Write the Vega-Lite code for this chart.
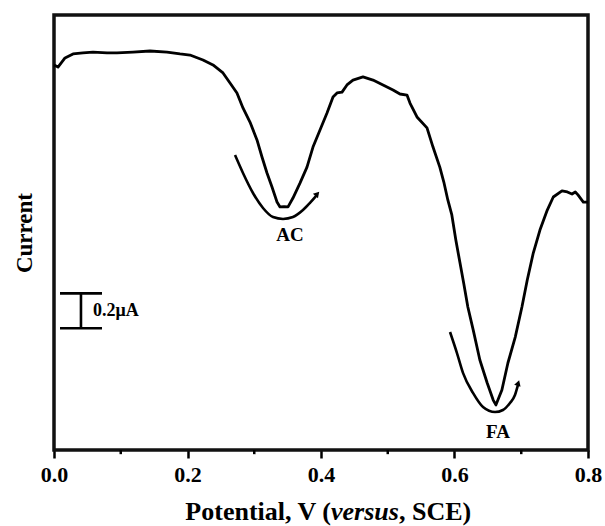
{
  "$schema": "https://vega.github.io/schema/vega-lite/v6.json",
  "width": 534,
  "height": 435,
  "autosize": "none",
  "padding": {"left": 54, "top": 15, "right": 17, "bottom": 76},
  "background": "white",
  "config": {
    "view": {"stroke": null},
    "font": "Liberation Serif",
    "axis": {"domain": false, "offset": 0, "grid": false, "labelColor": "black", "titleColor": "black", "tickColor": "black"},
    "axisX": {
      "domain": false,
      "offset": 0,
      "title": null,
      "labelFont": "Liberation Serif",
      "labelFontWeight": "bold",
      "labelFontSize": 22,
      "labelPadding": 6,
      "labelOverlap": false,
      "labelFlush": false,
      "tickSize": 8,
      "tickWidth": 2.5
    },
    "axisY": {
      "domain": false,
      "offset": 0,
      "labels": false,
      "ticks": false,
      "titleFont": "Liberation Serif",
      "titleFontWeight": "bold",
      "titleFontSize": 23,
      "titlePadding": 18
    }
  },
  "datasets": {
    "curve": [
      {"potential": 0.0, "current": 2.213},
      {"potential": 0.006, "current": 2.201},
      {"potential": 0.0165, "current": 2.253},
      {"potential": 0.0285, "current": 2.276},
      {"potential": 0.0434, "current": 2.282},
      {"potential": 0.0584, "current": 2.287},
      {"potential": 0.0794, "current": 2.282},
      {"potential": 0.0944, "current": 2.282},
      {"potential": 0.1183, "current": 2.287},
      {"potential": 0.1438, "current": 2.293},
      {"potential": 0.1693, "current": 2.287},
      {"potential": 0.1888, "current": 2.276},
      {"potential": 0.2037, "current": 2.27},
      {"potential": 0.2232, "current": 2.241},
      {"potential": 0.2382, "current": 2.213},
      {"potential": 0.2532, "current": 2.167},
      {"potential": 0.2637, "current": 2.109},
      {"potential": 0.2741, "current": 2.052},
      {"potential": 0.2831, "current": 1.966},
      {"potential": 0.2936, "current": 1.885},
      {"potential": 0.3041, "current": 1.782},
      {"potential": 0.3116, "current": 1.684},
      {"potential": 0.3191, "current": 1.592},
      {"potential": 0.3266, "current": 1.511},
      {"potential": 0.3341, "current": 1.425},
      {"potential": 0.3386, "current": 1.397},
      {"potential": 0.3446, "current": 1.399},
      {"potential": 0.3506, "current": 1.397},
      {"potential": 0.358, "current": 1.448},
      {"potential": 0.3685, "current": 1.534},
      {"potential": 0.379, "current": 1.626},
      {"potential": 0.388, "current": 1.741},
      {"potential": 0.3985, "current": 1.839},
      {"potential": 0.409, "current": 1.937},
      {"potential": 0.418, "current": 2.029},
      {"potential": 0.424, "current": 2.052},
      {"potential": 0.4315, "current": 2.057},
      {"potential": 0.4389, "current": 2.098},
      {"potential": 0.4479, "current": 2.126},
      {"potential": 0.4629, "current": 2.144},
      {"potential": 0.4779, "current": 2.126},
      {"potential": 0.4929, "current": 2.098},
      {"potential": 0.5079, "current": 2.069},
      {"potential": 0.5183, "current": 2.046},
      {"potential": 0.5288, "current": 2.04},
      {"potential": 0.5333, "current": 1.994},
      {"potential": 0.5438, "current": 1.914},
      {"potential": 0.5588, "current": 1.851},
      {"potential": 0.5678, "current": 1.741},
      {"potential": 0.578, "current": 1.626},
      {"potential": 0.584, "current": 1.54},
      {"potential": 0.59, "current": 1.437},
      {"potential": 0.596, "current": 1.351},
      {"potential": 0.602, "current": 1.207},
      {"potential": 0.608, "current": 1.08},
      {"potential": 0.614, "current": 0.954},
      {"potential": 0.62, "current": 0.822},
      {"potential": 0.628, "current": 0.69},
      {"potential": 0.638, "current": 0.517},
      {"potential": 0.649, "current": 0.385},
      {"potential": 0.658, "current": 0.287},
      {"potential": 0.662, "current": 0.259},
      {"potential": 0.671, "current": 0.345},
      {"potential": 0.68, "current": 0.5},
      {"potential": 0.691, "current": 0.649},
      {"potential": 0.701, "current": 0.822},
      {"potential": 0.709, "current": 0.977},
      {"potential": 0.718, "current": 1.132},
      {"potential": 0.728, "current": 1.264},
      {"potential": 0.739, "current": 1.379},
      {"potential": 0.748, "current": 1.454},
      {"potential": 0.761, "current": 1.489},
      {"potential": 0.769, "current": 1.483},
      {"potential": 0.776, "current": 1.471},
      {"potential": 0.781, "current": 1.483},
      {"potential": 0.785, "current": 1.466},
      {"potential": 0.793, "current": 1.425},
      {"potential": 0.8, "current": 1.425}
    ],
    "frame": [
      {"potential": 0, "potential2": 0.8, "current": 0, "current2": 2.5}
    ],
    "minorTicks": [
      {"potential": 0.1, "current": 0, "current2": -0.024},
      {"potential": 0.3, "current": 0, "current2": -0.024},
      {"potential": 0.5, "current": 0, "current2": -0.024},
      {"potential": 0.7, "current": 0, "current2": -0.024}
    ],
    "arcs": [
      {"peak": "AC", "potential": 0.2712, "current": 1.695},
      {"peak": "AC", "potential": 0.2831, "current": 1.592},
      {"peak": "AC", "potential": 0.2981, "current": 1.477},
      {"peak": "AC", "potential": 0.3131, "current": 1.391},
      {"peak": "AC", "potential": 0.3281, "current": 1.339},
      {"peak": "AC", "potential": 0.3431, "current": 1.328},
      {"peak": "AC", "potential": 0.358, "current": 1.339},
      {"peak": "AC", "potential": 0.373, "current": 1.379},
      {"peak": "AC", "potential": 0.3835, "current": 1.42},
      {"peak": "AC", "potential": 0.394, "current": 1.466},
      {"peak": "FA", "potential": 0.5933, "current": 0.678},
      {"peak": "FA", "potential": 0.6037, "current": 0.557},
      {"peak": "FA", "potential": 0.6127, "current": 0.443},
      {"peak": "FA", "potential": 0.6277, "current": 0.328},
      {"peak": "FA", "potential": 0.6427, "current": 0.247},
      {"peak": "FA", "potential": 0.6607, "current": 0.218},
      {"peak": "FA", "potential": 0.6726, "current": 0.23},
      {"peak": "FA", "potential": 0.6831, "current": 0.27},
      {"peak": "FA", "potential": 0.6906, "current": 0.316},
      {"peak": "FA", "potential": 0.6951, "current": 0.374}
    ],
    "arrowTips": [
      {"peak": "AC", "potential": 0.3945, "current": 1.472},
      {"peak": "FA", "potential": 0.6955, "current": 0.385}
    ],
    "peakLabels": [
      {"label": "AC", "potential": 0.3535, "current": 1.236},
      {"label": "FA", "potential": 0.6651, "current": 0.103}
    ],
    "scaleBar": [
      {"potential": 0.009, "potential2": 0.0719, "current": 0.7},
      {"potential": 0.009, "potential2": 0.0719, "current": 0.9}
    ],
    "scaleStem": [
      {"potential": 0.0404, "current": 0.7, "current2": 0.9}
    ],
    "scaleText": [
      {"label": "0.2μA", "potential": 0.0584, "current": 0.8}
    ],
    "xTitle": [
      {"part": "Potential, V (", "potential": 0.415, "current": -0.4},
      {"part": "versus", "potential": 0.415, "current": -0.4},
      {"part": ", SCE)", "potential": 0.5168, "current": -0.4}
    ]
  },
  "layer": [
    {
      "data": {"name": "frame"},
      "mark": {"type": "rect", "filled": false, "stroke": "#111111", "strokeWidth": 3.5, "strokeOpacity": 1},
      "encoding": {
        "x": {
          "field": "potential",
          "type": "quantitative",
          "scale": {"domain": [0, 0.8], "nice": false, "zero": false},
          "axis": {
            "domain": false,
            "offset": 0,
            "values": [0, 0.2, 0.4, 0.6, 0.8],
            "format": ".1f"
          }
        },
        "x2": {"field": "potential2"},
        "y": {
          "field": "current",
          "type": "quantitative",
          "scale": {"domain": [0, 2.5], "nice": false, "zero": false},
          "axis": {"title": "Current", "domain": false, "offset": 0}
        },
        "y2": {"field": "current2"}
      }
    },
    {
      "data": {"name": "minorTicks"},
      "mark": {"type": "rule", "color": "black", "strokeWidth": 2.5},
      "encoding": {
        "x": {"field": "potential", "type": "quantitative"},
        "y": {"field": "current", "type": "quantitative"},
        "y2": {"field": "current2"}
      }
    },
    {
      "data": {"name": "curve"},
      "mark": {"type": "line", "color": "black", "strokeWidth": 2.8, "strokeJoin": "round"},
      "encoding": {
        "x": {"field": "potential", "type": "quantitative"},
        "y": {"field": "current", "type": "quantitative"}
      }
    },
    {
      "data": {"name": "arcs"},
      "mark": {"type": "line", "color": "black", "strokeWidth": 2.6, "interpolate": "monotone"},
      "encoding": {
        "x": {"field": "potential", "type": "quantitative"},
        "y": {"field": "current", "type": "quantitative"},
        "detail": {"field": "peak"}
      }
    },
    {
      "data": {"name": "arrowTips"},
      "transform": [{"filter": "datum.peak == 'AC'"}],
      "mark": {"type": "point", "shape": "triangle-up", "filled": true, "color": "black", "opacity": 1, "size": 45, "angle": 41},
      "encoding": {
        "x": {"field": "potential", "type": "quantitative"},
        "y": {"field": "current", "type": "quantitative"}
      }
    },
    {
      "data": {"name": "arrowTips"},
      "transform": [{"filter": "datum.peak == 'FA'"}],
      "mark": {"type": "point", "shape": "triangle-up", "filled": true, "color": "black", "opacity": 1, "size": 45, "angle": 18},
      "encoding": {
        "x": {"field": "potential", "type": "quantitative"},
        "y": {"field": "current", "type": "quantitative"}
      }
    },
    {
      "data": {"name": "peakLabels"},
      "mark": {"type": "text", "font": "Liberation Serif", "fontWeight": "bold", "fontSize": 19, "color": "black", "align": "center", "baseline": "middle"},
      "encoding": {
        "x": {"field": "potential", "type": "quantitative"},
        "y": {"field": "current", "type": "quantitative"},
        "text": {"field": "label"}
      }
    },
    {
      "data": {"name": "scaleBar"},
      "mark": {"type": "rule", "color": "black", "strokeWidth": 2.6},
      "encoding": {
        "x": {"field": "potential", "type": "quantitative"},
        "x2": {"field": "potential2"},
        "y": {"field": "current", "type": "quantitative"}
      }
    },
    {
      "data": {"name": "scaleStem"},
      "mark": {"type": "rule", "color": "black", "strokeWidth": 2.6},
      "encoding": {
        "x": {"field": "potential", "type": "quantitative"},
        "y": {"field": "current", "type": "quantitative"},
        "y2": {"field": "current2"}
      }
    },
    {
      "data": {"name": "scaleText"},
      "mark": {"type": "text", "font": "Liberation Serif", "fontWeight": "bold", "fontSize": 18, "color": "black", "align": "left", "baseline": "middle"},
      "encoding": {
        "x": {"field": "potential", "type": "quantitative"},
        "y": {"field": "current", "type": "quantitative"},
        "text": {"field": "label"}
      }
    },
    {
      "data": {"name": "xTitle"},
      "transform": [{"filter": "datum.part == 'Potential, V ('"}],
      "mark": {"type": "text", "font": "Liberation Serif", "fontWeight": "bold", "fontSize": 26, "color": "black", "align": "right", "baseline": "alphabetic"},
      "encoding": {
        "x": {"field": "potential", "type": "quantitative"},
        "y": {"field": "current", "type": "quantitative"},
        "text": {"field": "part"}
      }
    },
    {
      "data": {"name": "xTitle"},
      "transform": [{"filter": "datum.part == 'versus'"}],
      "mark": {"type": "text", "font": "Liberation Serif", "fontWeight": "bold", "fontStyle": "italic", "fontSize": 26, "color": "black", "align": "left", "baseline": "alphabetic"},
      "encoding": {
        "x": {"field": "potential", "type": "quantitative"},
        "y": {"field": "current", "type": "quantitative"},
        "text": {"field": "part"}
      }
    },
    {
      "data": {"name": "xTitle"},
      "transform": [{"filter": "datum.part == ', SCE)'"}],
      "mark": {"type": "text", "font": "Liberation Serif", "fontWeight": "bold", "fontSize": 26, "color": "black", "align": "left", "baseline": "alphabetic"},
      "encoding": {
        "x": {"field": "potential", "type": "quantitative"},
        "y": {"field": "current", "type": "quantitative"},
        "text": {"field": "part"}
      }
    }
  ]
}
